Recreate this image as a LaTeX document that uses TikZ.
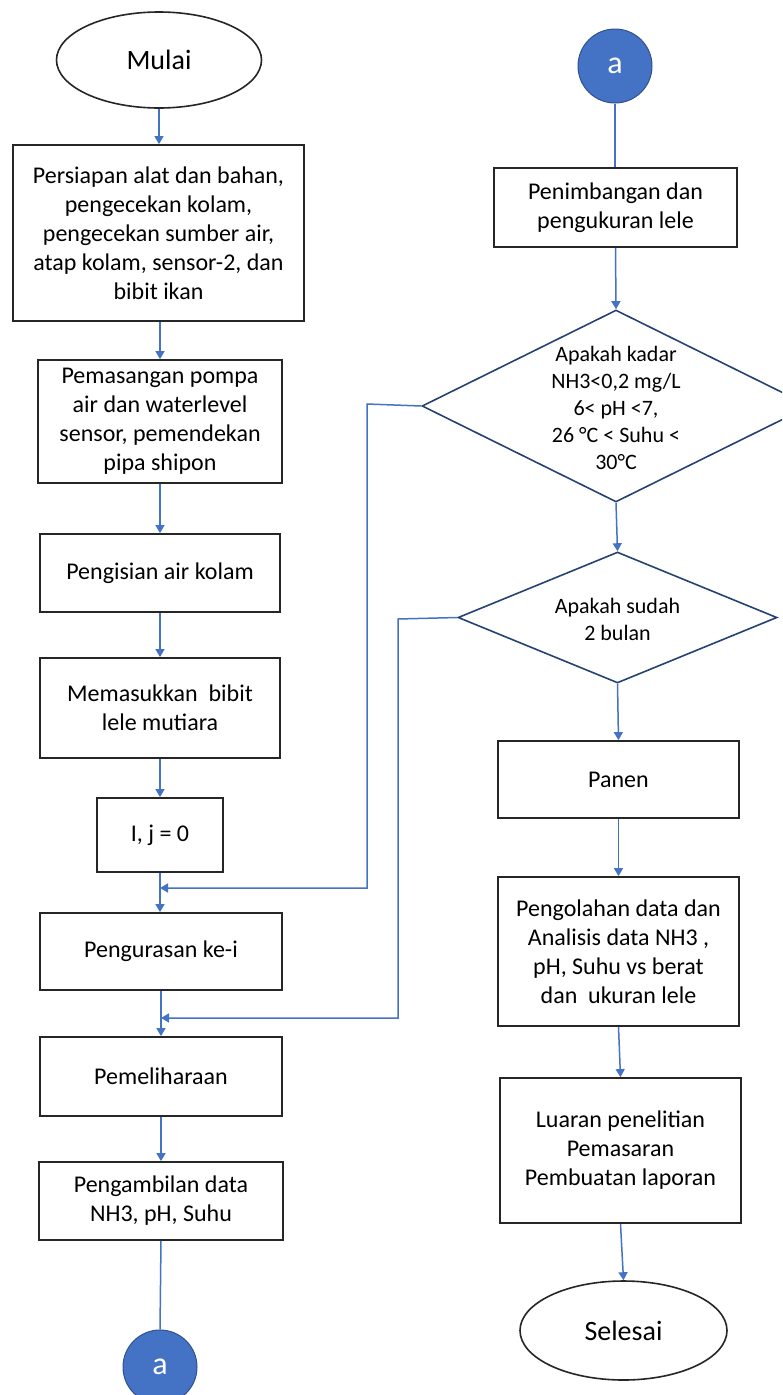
\documentclass[tikz,border=0pt]{standalone}
\usepackage{fontspec}
\setmainfont{Carlito}
\usetikzlibrary{shapes.geometric,arrows.meta}
\definecolor{cblue}{HTML}{4472C4}
\definecolor{cdark}{HTML}{2F528F}
\tikzset{
  boxnode/.style={draw=black!85, line width=1.8pt, fill=white, inner sep=0pt, align=center,
    font=\fontsize{24}{29}\selectfont},
  termnode/.style={ellipse, draw=black!85, line width=1.6pt, fill=white, inner sep=0pt,
    font=\fontsize{28}{32}\selectfont},
  decnode/.style={diamond, draw=cdark!80!black, line width=1.6pt, fill=white, inner sep=0pt},
  dectext/.style={align=center, inner sep=0pt, font=\fontsize{22}{27}\selectfont},
  connnode/.style={circle, fill=cblue, draw=cdark, line width=1pt, inner sep=0pt,
    minimum size=74pt, text=white, font=\fontsize{32}{32}\selectfont},
  conn/.style={draw=cblue, line width=1.5pt},
  arr/.style={conn, -{Triangle[width=9pt,length=8pt]}}
}
\begin{document}
\begin{tikzpicture}[x=1pt,y=-1pt]
\path[use as bounding box] (0,0) rectangle (782,1395);
\fill[white] (0,0) rectangle (782,1395);
\begin{scope}
\clip (0,0) rectangle (782,1395);
% left column
\node[termnode, minimum width=205pt, minimum height=96pt] (start) at (159,60) {Mulai};
\node[boxnode, minimum width=291pt, minimum height=176pt] (b1) at (158.5,233)
  {Persiapan alat dan bahan,\\ pengecekan kolam,\\ pengecekan sumber air,\\ atap kolam, sensor-2, dan\\ bibit ikan};
\node[boxnode, minimum width=244pt, minimum height=123pt] (b2) at (160,421.5)
  {Pemasangan pompa\\ air dan waterlevel\\ sensor, pemendekan\\ pipa shipon};
\node[boxnode, minimum width=240pt, minimum height=78pt] (b3) at (160,573) {Pengisian air kolam};
\node[boxnode, minimum width=240pt, minimum height=100pt] (b4) at (160,708) {Memasukkan\ \ bibit\\ lele mutiara};
\node[boxnode, minimum width=126pt, minimum height=74pt] (b5) at (160,835) {I, j = 0};
\node[boxnode, minimum width=242pt, minimum height=77pt] (b6) at (161,951.5) {Pengurasan ke-i};
\node[boxnode, minimum width=242pt, minimum height=79pt] (b7) at (161,1076.5) {Pemeliharaan};
\node[boxnode, minimum width=244pt, minimum height=78pt] (b8) at (161,1201) {Pengambilan data\\ NH3, pH, Suhu};
\node[connnode] (ca) at (160,1367) {a};
% right column
\node[connnode] (cb) at (615,66) {a};
\node[boxnode, minimum width=243pt, minimum height=79pt] (r1) at (615.5,207.5) {Penimbangan dan\\ pengukuran lele};
\node[decnode, minimum width=388pt, minimum height=192pt] (d1) at (616,406) {};
\node[dectext] (d1t) at (616,408) {Apakah kadar\\ NH3<0,2 mg/L\\ 6< pH <7,\\ 26 °C < Suhu <\\ 30°C};
\node[decnode, minimum width=319pt, minimum height=131pt] (d2) at (617.5,617.5) {};
\node[dectext] (d2t) at (617.5,619) {Apakah sudah\\ 2 bulan};
\node[boxnode, minimum width=241pt, minimum height=77pt] (r2) at (618.5,779.5) {Panen};
\node[boxnode, minimum width=241pt, minimum height=149pt] (r3) at (618.5,951.5)
  {Pengolahan data dan\\ Analisis data NH3 ,\\ pH, Suhu vs berat\\ dan\ \ ukuran lele};
\node[boxnode, minimum width=241pt, minimum height=145pt] (r4) at (620.5,1150.5)
  {Luaran penelitian\\ Pemasaran\\ Pembuatan laporan};
\node[termnode, minimum width=207pt, minimum height=99pt] (end) at (623.5,1330.5) {Selesai};
% merge points
\coordinate (m1) at (160,888);
\coordinate (m2) at (161,1018);
% connectors left
\draw[arr] (start.south) -- (b1.north -| start.south);
\draw[arr] (b1.south -| b2.north) -- (b2.north);
\draw[arr] (b2.south) -- (b3.north);
\draw[arr] (b3.south) -- (b4.north);
\draw[arr] (b4.south) -- (b5.north);
\draw[arr] (b5.south) -- (b6.north -| b5.south);
\draw[arr] (b6.south) -- (b7.north);
\draw[arr] (b7.south) -- (b8.north);
\draw[conn] (b8.south) -- (ca.north);
% connectors right
\draw[conn] (cb.south) -- (r1.north -| cb.south);
\draw[arr] (r1.south) -- (d1.north);
\draw[arr] (d1.south) -- (d2.north);
\draw[arr] (d2.south) -- (r2.north);
\draw[arr] (r2.south) -- (r3.north);
\draw[arr] (r3.south) -- (r4.north);
\draw[arr] (r4.south) -- (end.north);
% loops
\draw[arr] (d1.west) -- (367,404) |- (m1);
\draw[arr] (d2.west) -- (398,619) |- (m2);
\end{scope}
\end{tikzpicture}
\end{document}
